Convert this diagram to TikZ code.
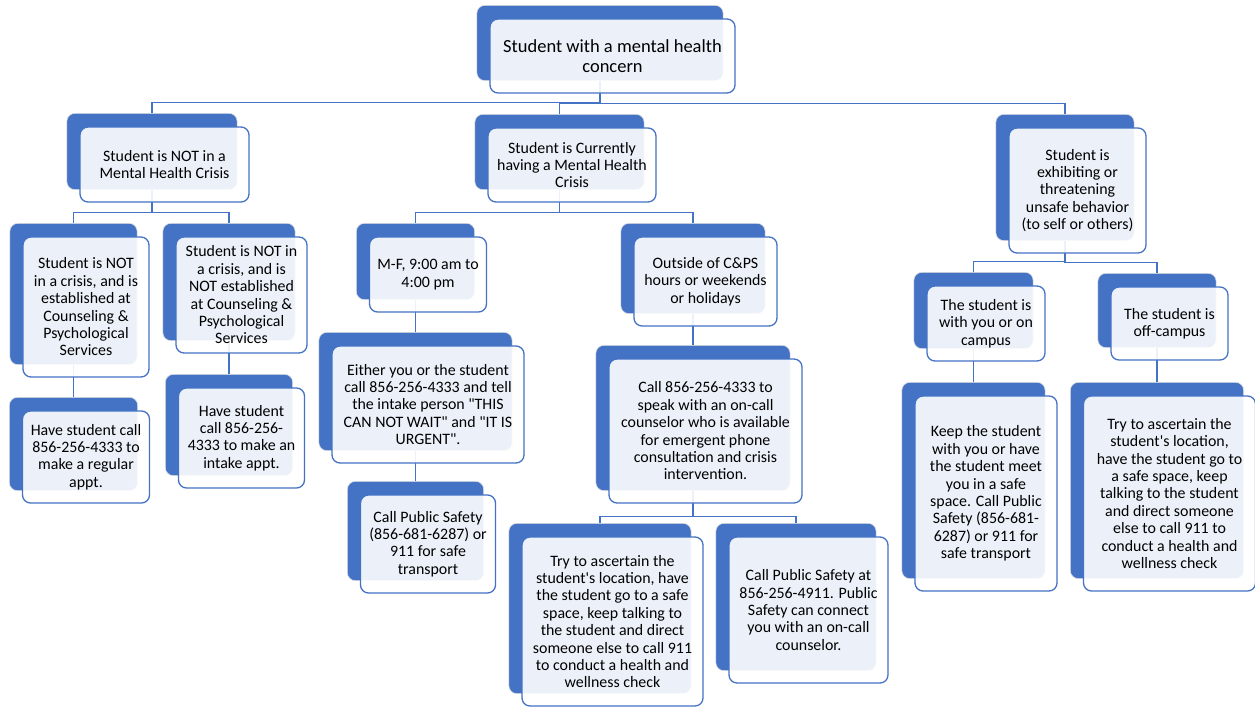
\documentclass[tikz,border=0pt]{standalone}
\usepackage{fontspec}
\setmainfont{Carlito}
\usetikzlibrary{backgrounds}
\definecolor{office}{HTML}{4472C4}

\begin{document}
\begin{tikzpicture}[x=1pt, y=-1pt,
		card/.style={draw=office, line width=1.3pt, rounded corners=8pt, fill=white, fill opacity=0.9,
			text opacity=1, align=center, inner sep=0pt, font=\fontsize{15.9}{17.4}\selectfont},
		bk/.style={shift={(-12.5,-13)}},
		tab/.style={fill=office, draw=black!12, line width=0.6pt, rounded corners=8pt},
		link/.style={draw=office, line width=1.3pt}]
	\useasboundingbox (0,0) rectangle (1255,707);

	\node[card, minimum width=245pt, minimum height=74pt, font=\fontsize{18.5}{20.3}\selectfont] (root) at (612.5,56) {Student with a mental health\\concern};

	\node[card, minimum width=169pt, minimum height=75pt] (nomh) at (164.5,164.5) {Student is NOT in a\\Mental Health Crisis};
	\node[card, minimum width=168pt, minimum height=74pt] (crisis) at (572,165) {Student is Currently\\having a Mental Health\\Crisis};
	\node[card, minimum width=137pt, minimum height=125pt] (unsafe) at (1077.5,190.5) {Student is\\exhibiting or\\threatening\\unsafe behavior\\(to self or others)};

	\node[card, minimum width=126pt, minimum height=140pt] (estab) at (86,307) {Student is NOT\\in a crisis, and is\\established at\\Counseling \&\\Psychological\\Services};
	\node[card, minimum width=131pt, minimum height=116pt] (notestab) at (241.5,295) {Student is NOT in\\a crisis, and is\\NOT established\\at Counseling \&\\Psychological\\Services};
	\node[card, minimum width=127pt, minimum height=92pt] (regular) at (86,457) {Have student call\\856-256-4333 to\\make a regular\\appt.};
	\node[card, minimum width=126pt, minimum height=100pt] (intake) at (241.5,438) {Have student\\call 856-256-\\4333 to make an\\intake appt.};

	\node[card, minimum width=117pt, minimum height=75pt] (mf) at (428,274.5) {M-F, 9:00 am to\\4:00 pm};
	\node[card, minimum width=143pt, minimum height=89pt] (outside) at (705.5,281.5) {Outside of C\&PS\\hours or weekends\\or holidays};
	\node[card, minimum width=192pt, minimum height=117pt] (urgent) at (428,404.5) {Either you or the student\\call 856-256-4333 and tell\\the intake person \textquotedbl THIS\\CAN NOT WAIT\textquotedbl{} and \textquotedbl IT IS\\URGENT\textquotedbl.};
	\node[card, minimum width=135pt, minimum height=98pt] (transport) at (428,544) {Call Public Safety\\(856-681-6287) or\\911 for safe\\transport};
	\node[card, minimum width=193pt, minimum height=144pt] (oncall) at (705.5,431) {Call 856-256-4333 to\\speak with an on-call\\counselor who is available\\for emergent phone\\consultation and crisis\\intervention.};
	\node[card, minimum width=181pt, minimum height=169pt] (locate) at (612.5,621.5) {Try to ascertain the\\student\textquotesingle s location, have\\the student go to a safe\\space, keep talking to\\the student and direct\\someone else to call 911\\to conduct a health and\\wellness check};
	\node[card, minimum width=159pt, minimum height=146pt] (psafety) at (808.5,610) {Call Public Safety at\\856-256-4911. Public\\Safety can connect\\you with an on-call\\counselor.};

	\node[card, minimum width=118pt, minimum height=75pt] (oncampus) at (986,323.5) {The student is\\with you or on\\campus};
	\node[card, minimum width=117pt, minimum height=73pt] (offcampus) at (1169.5,323.5) {The student is\\off-campus};
	\node[card, minimum width=142pt, minimum height=195pt] (keep) at (986,493.5) {Keep the student\\with you or have\\the student meet\\you in a safe\\space. Call Public\\Safety (856-681-\\6287) or 911 for\\safe transport};
	\node[card, minimum width=172pt, minimum height=195pt] (locate2) at (1169.5,493.5) {Try to ascertain the\\student\textquotesingle s location,\\have the student go to\\a safe space, keep\\talking to the student\\and direct someone\\else to call 911 to\\conduct a health and\\wellness check};

	\begin{scope}[on background layer]
		\foreach \n in {root,nomh,crisis,unsafe,estab,notestab,regular,intake,mf,outside,urgent,
				transport,oncall,locate,psafety,oncampus,offcampus,keep,locate2}
			\path[tab] ([bk]\n.south west) rectangle ([bk]\n.north east);

		\draw[link] ([bk]root.south) |- ([bk,yshift=11pt]nomh.north) -- ([bk]nomh.north);
		\draw[link] ([bk]root.south) |- ([bk,yshift=11pt]crisis.north) -- ([bk]crisis.north);
		\draw[link] ([bk]root.south) |- ([bk,yshift=11pt]unsafe.north) -- ([bk]unsafe.north);
		\draw[link] ([bk]nomh.south) |- ([bk,yshift=11pt]estab.north) -- ([bk]estab.north);
		\draw[link] ([bk]nomh.south) |- ([bk,yshift=11pt]notestab.north) -- ([bk]notestab.north);
		\draw[link] ([bk]estab.south) -- ([bk]regular.north);
		\draw[link] ([bk]notestab.south) -- ([bk]intake.north);
		\draw[link] ([bk]crisis.south) |- ([bk,yshift=11pt]mf.north) -- ([bk]mf.north);
		\draw[link] ([bk]crisis.south) |- ([bk,yshift=11pt]outside.north) -- ([bk]outside.north);
		\draw[link] ([bk]mf.south) -- ([bk]urgent.north);
		\draw[link] ([bk]urgent.south) -- ([bk]transport.north);
		\draw[link] ([bk]outside.south) -- ([bk]oncall.north);
		\draw[link] ([bk]oncall.south) |- ([bk,yshift=7pt]locate.north) -- ([bk]locate.north);
		\draw[link] ([bk]oncall.south) |- ([bk,yshift=7pt]psafety.north) -- ([bk]psafety.north);
		\draw[link] ([bk]unsafe.south) |- ([bk,yshift=11pt]oncampus.north) -- ([bk]oncampus.north);
		\draw[link] ([bk]unsafe.south) |- ([bk,yshift=11pt]offcampus.north) -- ([bk]offcampus.north);
		\draw[link] ([bk]oncampus.south) -- ([bk]keep.north);
		\draw[link] ([bk]offcampus.south) -- ([bk]locate2.north);
	\end{scope}
\end{tikzpicture}
\end{document}
